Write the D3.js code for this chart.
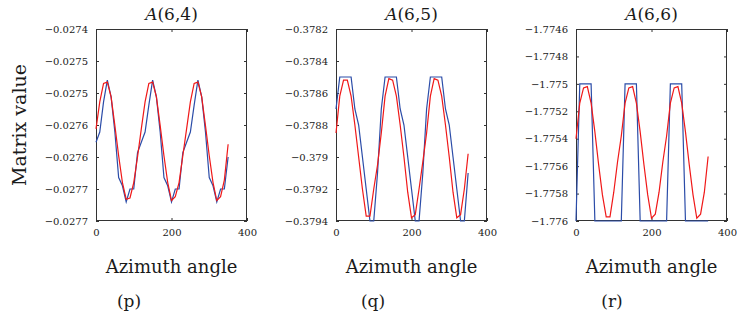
<!DOCTYPE html>
<html lang="en">
<head>
  <meta charset="UTF-8">
  <title>Matrix value vs azimuth angle</title>
  <script src="https://d3js.org/d3.v7.min.js"></script>
  <style>
    body { margin: 0; background: #fff; }
    svg { display: block; font-family: "DejaVu Serif", serif; fill: #1a1a1a; }
    .tick text { font-size: 10px; fill: #1a1a1a; }
    .tick line { stroke: #333; }
    .frame { fill: none; stroke: #333; stroke-width: 1; }
    .line { fill: none; stroke-width: 1.2; }
  </style>
</head>
<body>
  <svg width="737" height="324"></svg>
  <script>
    // azimuth samples (degrees)
    const angles = [0, 10, 20, 30, 40, 50, 60, 70, 80, 90, 100, 110,
                    120, 130, 140, 150, 160, 170, 180, 190, 200, 210, 220, 230,
                    240, 250, 260, 270, 280, 290, 300, 310, 320, 330, 340, 350];

    // A(6,4)
    const blue64 = [-0.027577, -0.027561, -0.027514, -0.027480, -0.027506, -0.027561, -0.027632, -0.027645, -0.027670, -0.027650, -0.027650, -0.027593,
                    -0.027577, -0.027561, -0.027519, -0.027480, -0.027506, -0.027561, -0.027632, -0.027645, -0.027670, -0.027650, -0.027650, -0.027593,
                    -0.027577, -0.027561, -0.027519, -0.027480, -0.027506, -0.027561, -0.027632, -0.027645, -0.027670, -0.027650, -0.027650, -0.027600];
    const red64  = [-0.027556, -0.027514, -0.027485, -0.027483, -0.027506, -0.027551, -0.027598, -0.027640, -0.027666, -0.027664, -0.027640, -0.027600,
                    -0.027556, -0.027514, -0.027485, -0.027483, -0.027506, -0.027551, -0.027598, -0.027640, -0.027668, -0.027662, -0.027640, -0.027598,
                    -0.027556, -0.027514, -0.027485, -0.027483, -0.027506, -0.027551, -0.027598, -0.027640, -0.027668, -0.027662, -0.027636, -0.027580];

    // A(6,5)
    const blue65 = [-0.37870, -0.37850, -0.37850, -0.37850, -0.37850, -0.37870, -0.37880, -0.37900, -0.37920, -0.37940, -0.37940, -0.37910,
                    -0.37870, -0.37850, -0.37850, -0.37850, -0.37850, -0.37870, -0.37880, -0.37900, -0.37920, -0.37940, -0.37940, -0.37910,
                    -0.37870, -0.37850, -0.37850, -0.37850, -0.37850, -0.37870, -0.37880, -0.37900, -0.37920, -0.37940, -0.37940, -0.37910];
    const red65  = [-0.37885, -0.37862, -0.37852, -0.37852, -0.37862, -0.37880, -0.37900, -0.37920, -0.37937, -0.37937, -0.37920, -0.37905,
                    -0.37885, -0.37862, -0.37851, -0.37852, -0.37862, -0.37880, -0.37900, -0.37922, -0.37938, -0.37936, -0.37920, -0.37903,
                    -0.37885, -0.37862, -0.37851, -0.37852, -0.37862, -0.37880, -0.37900, -0.37922, -0.37938, -0.37936, -0.37920, -0.37898];

    // A(6,6)
    const blue66 = [-1.7760, -1.7750, -1.7750, -1.7750, -1.7750, -1.7760, -1.7760, -1.7760, -1.7760, -1.7760, -1.7760, -1.7760,
                    -1.7760, -1.7750, -1.7750, -1.7750, -1.7750, -1.7760, -1.7760, -1.7760, -1.7760, -1.7760, -1.7760, -1.7760,
                    -1.7760, -1.7750, -1.7750, -1.7750, -1.7750, -1.7760, -1.7760, -1.7760, -1.7760, -1.7760, -1.7760, -1.7760];
    const red66  = [-1.77540, -1.77514, -1.77503, -1.77502, -1.77514, -1.77535, -1.77559, -1.77581, -1.77597, -1.77597, -1.77579, -1.77557,
                    -1.77538, -1.77514, -1.77503, -1.77502, -1.77514, -1.77535, -1.77559, -1.77581, -1.77598, -1.77595, -1.77579, -1.77557,
                    -1.77538, -1.77514, -1.77503, -1.77502, -1.77514, -1.77535, -1.77559, -1.77581, -1.77598, -1.77595, -1.77579, -1.77553];

    // axis ticks
    const xTicks = [0, 200, 400];
    const yTicks64 = [-0.02740, -0.02745, -0.02750, -0.02755, -0.02760, -0.02765, -0.02770];
    const yLabels64 = ["−0.0274", "−0.0275", "−0.0275", "−0.0276", "−0.0276", "−0.0277", "−0.0277"];
    const yTicks65 = [-0.3782, -0.3784, -0.3786, -0.3788, -0.3790, -0.3792, -0.3794];
    const yLabels65 = ["−0.3782", "−0.3784", "−0.3786", "−0.3788", "−0.379", "−0.3792", "−0.3794"];
    const yTicks66 = [-1.7746, -1.7748, -1.7750, -1.7752, -1.7754, -1.7756, -1.7758, -1.7760];
    const yLabels66 = ["−1.7746", "−1.7748", "−1.775", "−1.7752", "−1.7754", "−1.7756", "−1.7758", "−1.776"];

    const titles = ["(6,4)", "(6,5)", "(6,6)"];
    const captions = ["(p)", "(q)", "(r)"];

    const panels = [
      { title: titles[0], caption: captions[0], blue: blue64, red: red64, ticks: yTicks64, labels: yLabels64 },
      { title: titles[1], caption: captions[1], blue: blue65, red: red65, ticks: yTicks65, labels: yLabels65 },
      { title: titles[2], caption: captions[2], blue: blue66, red: red66, ticks: yTicks66, labels: yLabels66 }
    ];

    const svg = d3.select("svg");
    const lefts = [96, 336, 576];
    const captionX = [129, 373, 612];
    const pw = 151, plotTop = 29, plotBottom = 221;

    svg.append("text")
       .attr("transform", "translate(26," + ((plotTop + plotBottom) / 2) + ") rotate(-90)")
       .attr("text-anchor", "middle")
       .style("font-size", "19px")
       .text("Matrix value");

    panels.forEach((p, k) => {
      const left = lefts[k];
      const x = d3.scaleLinear().domain([0, 400]).range([left, left + pw]);
      const y = d3.scaleLinear().domain([p.ticks[0], p.ticks[p.ticks.length - 1]]).range([plotTop, plotBottom]);

      const g = svg.append("g");

      // frame first so the curves sit on top of it
      g.append("rect").attr("class", "frame")
        .attr("x", left + 0.5).attr("y", plotTop + 0.5)
        .attr("width", pw - 1).attr("height", plotBottom - plotTop - 1);

      // axes with inward ticks
      g.append("g").attr("transform", `translate(${left},0)`)
        .call(d3.axisLeft(y).tickValues(p.ticks).tickSize(-3).tickPadding(8)
          .tickFormat((d, i) => p.labels[i]))
        .call(a => a.select(".domain").remove());
      g.append("g").attr("transform", `translate(${left + pw},0)`)
        .call(d3.axisRight(y).tickValues(p.ticks).tickSize(-3).tickFormat(""))
        .call(a => a.select(".domain").remove());
      g.append("g").attr("transform", `translate(0,${plotBottom})`)
        .call(d3.axisBottom(x).tickValues(xTicks).tickSize(-3).tickPadding(8).tickFormat(d3.format("d")))
        .call(a => a.select(".domain").remove());
      g.append("g").attr("transform", `translate(0,${plotTop})`)
        .call(d3.axisTop(x).tickValues(xTicks).tickSize(-3).tickFormat(""))
        .call(a => a.select(".domain").remove());
      g.selectAll("g").attr("font-family", null).attr("font-size", null);

      const line = d3.line().x((d, i) => x(angles[i])).y(d => y(d));
      g.append("path").attr("class", "line").attr("stroke", "#2b4ca8").attr("d", line(p.blue));
      g.append("path").attr("class", "line").attr("stroke", "#f01818").attr("d", line(p.red));

      const t = g.append("text")
        .attr("x", left + pw / 2).attr("y", 20)
        .attr("text-anchor", "middle")
        .style("font-size", "17px");
      t.append("tspan").style("font-style", "italic").text("A");
      t.append("tspan").text(p.title);

      g.append("text")
        .attr("x", left + pw / 2).attr("y", 273)
        .attr("text-anchor", "middle")
        .style("font-size", "18px")
        .text("Azimuth angle");

      g.append("text")
        .attr("x", captionX[k]).attr("y", 307)
        .attr("text-anchor", "middle")
        .style("font-size", "17px")
        .text(p.caption);
    });
  </script>
</body>
</html>
